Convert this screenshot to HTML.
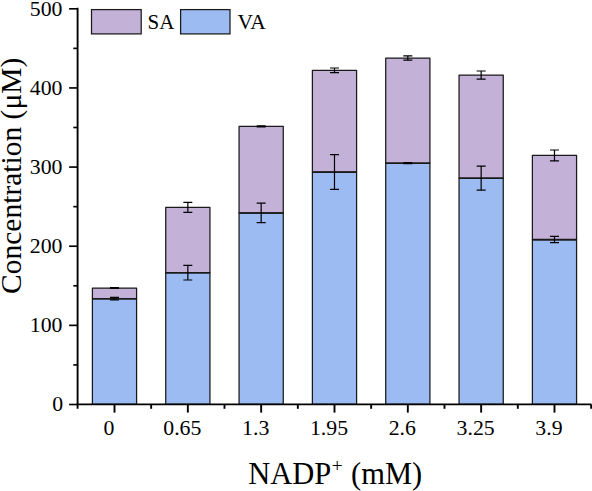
<!DOCTYPE html>
<html><head><meta charset="utf-8"><title>chart</title>
<style>
html,body{margin:0;padding:0;background:#fff;}
body{width:592px;height:491px;overflow:hidden;}
svg{display:block;}
</style></head><body>
<svg width="592" height="491" viewBox="0 0 592 491">
<rect width="592" height="491" fill="#fff"/>
<rect x="92.40" y="298.60" width="44.20" height="105.80" fill="#9CBBF3" stroke="#1a1a1a" stroke-width="1.25" stroke-linejoin="round"/>
<rect x="92.40" y="288.00" width="44.20" height="10.60" fill="#C3B1D8" stroke="#1a1a1a" stroke-width="1.25" stroke-linejoin="round"/>
<path d="M92.40 298.70H136.60" stroke="#1a1a1a" stroke-width="1.6" fill="none"/>
<path d="M114.50 297.30V299.90M110.00 297.30h9M110.00 299.90h9" stroke="#000" stroke-width="1.2" fill="none"/>
<path d="M114.50 287.65V288.35M110.00 287.65h9M110.00 288.35h9" stroke="#000" stroke-width="1.2" fill="none"/>
<rect x="165.73" y="272.70" width="44.20" height="131.70" fill="#9CBBF3" stroke="#1a1a1a" stroke-width="1.25" stroke-linejoin="round"/>
<rect x="165.73" y="207.40" width="44.20" height="65.30" fill="#C3B1D8" stroke="#1a1a1a" stroke-width="1.25" stroke-linejoin="round"/>
<path d="M165.73 272.80H209.93" stroke="#1a1a1a" stroke-width="1.6" fill="none"/>
<path d="M187.83 265.40V280.00M183.33 265.40h9M183.33 280.00h9" stroke="#000" stroke-width="1.2" fill="none"/>
<path d="M187.83 202.40V212.40M183.33 202.40h9M183.33 212.40h9" stroke="#000" stroke-width="1.2" fill="none"/>
<rect x="239.06" y="212.90" width="44.20" height="191.50" fill="#9CBBF3" stroke="#1a1a1a" stroke-width="1.25" stroke-linejoin="round"/>
<rect x="239.06" y="126.30" width="44.20" height="86.60" fill="#C3B1D8" stroke="#1a1a1a" stroke-width="1.25" stroke-linejoin="round"/>
<path d="M239.06 213.00H283.26" stroke="#1a1a1a" stroke-width="1.6" fill="none"/>
<path d="M261.16 203.20V222.60M256.66 203.20h9M256.66 222.60h9" stroke="#000" stroke-width="1.2" fill="none"/>
<path d="M261.16 125.80V126.80M256.66 125.80h9M256.66 126.80h9" stroke="#000" stroke-width="1.2" fill="none"/>
<rect x="312.39" y="172.00" width="44.20" height="232.40" fill="#9CBBF3" stroke="#1a1a1a" stroke-width="1.25" stroke-linejoin="round"/>
<rect x="312.39" y="70.30" width="44.20" height="101.70" fill="#C3B1D8" stroke="#1a1a1a" stroke-width="1.25" stroke-linejoin="round"/>
<path d="M312.39 172.10H356.59" stroke="#1a1a1a" stroke-width="1.6" fill="none"/>
<path d="M334.49 154.70V189.30M329.99 154.70h9M329.99 189.30h9" stroke="#000" stroke-width="1.2" fill="none"/>
<path d="M334.49 68.00V72.60M329.99 68.00h9M329.99 72.60h9" stroke="#000" stroke-width="1.2" fill="none"/>
<rect x="385.72" y="163.10" width="44.20" height="241.30" fill="#9CBBF3" stroke="#1a1a1a" stroke-width="1.25" stroke-linejoin="round"/>
<rect x="385.72" y="58.00" width="44.20" height="105.10" fill="#C3B1D8" stroke="#1a1a1a" stroke-width="1.25" stroke-linejoin="round"/>
<path d="M385.72 163.20H429.92" stroke="#1a1a1a" stroke-width="1.6" fill="none"/>
<path d="M407.82 162.60V163.60M403.32 162.60h9M403.32 163.60h9" stroke="#000" stroke-width="1.2" fill="none"/>
<path d="M407.82 55.80V60.20M403.32 55.80h9M403.32 60.20h9" stroke="#000" stroke-width="1.2" fill="none"/>
<rect x="459.05" y="178.10" width="44.20" height="226.30" fill="#9CBBF3" stroke="#1a1a1a" stroke-width="1.25" stroke-linejoin="round"/>
<rect x="459.05" y="75.10" width="44.20" height="103.00" fill="#C3B1D8" stroke="#1a1a1a" stroke-width="1.25" stroke-linejoin="round"/>
<path d="M459.05 178.20H503.25" stroke="#1a1a1a" stroke-width="1.6" fill="none"/>
<path d="M481.15 166.10V190.10M476.65 166.10h9M476.65 190.10h9" stroke="#000" stroke-width="1.2" fill="none"/>
<path d="M481.15 71.00V79.20M476.65 71.00h9M476.65 79.20h9" stroke="#000" stroke-width="1.2" fill="none"/>
<rect x="532.38" y="239.50" width="44.20" height="164.90" fill="#9CBBF3" stroke="#1a1a1a" stroke-width="1.25" stroke-linejoin="round"/>
<rect x="532.38" y="155.40" width="44.20" height="84.10" fill="#C3B1D8" stroke="#1a1a1a" stroke-width="1.25" stroke-linejoin="round"/>
<path d="M532.38 239.60H576.58" stroke="#1a1a1a" stroke-width="1.6" fill="none"/>
<path d="M554.48 236.40V242.60M549.98 236.40h9M549.98 242.60h9" stroke="#000" stroke-width="1.2" fill="none"/>
<path d="M554.48 150.00V160.80M549.98 150.00h9M549.98 160.80h9" stroke="#000" stroke-width="1.2" fill="none"/>
<g stroke="#000" stroke-width="1.90" fill="none" stroke-linecap="butt">
<path d="M77.60 7.75V408.80"/>
<path d="M76.65 404.40H591.5"/>
<path stroke-width="1.65" d="M69.10 404.50H77.60"/>
<path stroke-width="1.65" d="M69.10 325.36H77.60"/>
<path stroke-width="1.65" d="M69.10 246.22H77.60"/>
<path stroke-width="1.65" d="M69.10 167.08H77.60"/>
<path stroke-width="1.65" d="M69.10 87.94H77.60"/>
<path stroke-width="1.65" d="M69.10 8.80H77.60"/>
<path stroke-width="1.65" d="M73.30 364.93H77.60"/>
<path stroke-width="1.65" d="M73.30 285.79H77.60"/>
<path stroke-width="1.65" d="M73.30 206.65H77.60"/>
<path stroke-width="1.65" d="M73.30 127.51H77.60"/>
<path stroke-width="1.65" d="M73.30 48.37H77.60"/>
<path d="M114.50 404.40V412.60"/>
<path d="M151.16 404.40V408.80"/>
<path d="M187.83 404.40V412.60"/>
<path d="M224.49 404.40V408.80"/>
<path d="M261.16 404.40V412.60"/>
<path d="M297.82 404.40V408.80"/>
<path d="M334.49 404.40V412.60"/>
<path d="M371.16 404.40V408.80"/>
<path d="M407.82 404.40V412.60"/>
<path d="M444.49 404.40V408.80"/>
<path d="M481.15 404.40V412.60"/>
<path d="M517.81 404.40V408.80"/>
<path d="M554.48 404.40V412.60"/>
<path d="M591.14 404.40V408.80"/>
</g>
<rect x="91.5" y="9.6" width="49.7" height="24.3" fill="#C3B1D8" stroke="#1a1a1a" stroke-width="1.25"/>
<rect x="180.6" y="9.6" width="49.4" height="24.3" fill="#9CBBF3" stroke="#1a1a1a" stroke-width="1.25"/>
<g fill="#000" font-family="'Liberation Serif', serif">
<g font-size="21.8" text-anchor="end">
<text x="63.20" y="411.00">0</text>
<text x="62.50" y="332.16">100</text>
<text x="62.50" y="253.02">200</text>
<text x="62.50" y="173.88">300</text>
<text x="62.50" y="94.74">400</text>
<text x="62.50" y="15.60">500</text>
</g>
<g font-size="21.8" text-anchor="middle">
<text x="109.00" y="434.60">0</text>
<text x="182.33" y="434.60">0.65</text>
<text x="255.66" y="434.60">1.3</text>
<text x="328.99" y="434.60">1.95</text>
<text x="402.32" y="434.60">2.6</text>
<text x="475.65" y="434.60">3.25</text>
<text x="548.98" y="434.60">3.9</text>
</g>
<text x="147.60" y="29.40" font-size="21">SA</text>
<text x="237.60" y="29.40" font-size="21.5">VA</text>
<text x="248.15" y="483.50" font-size="30.5">NADP</text>
<text x="331.74" y="471.90" font-size="19.3">+</text>
<text x="351.05" y="483.50" font-size="30.5">(mM)</text>
<text transform="translate(20.50 293.90) rotate(-90)" x="0" y="0" font-size="29.5">Concentration (μM)</text>
</g>
</svg>
</body></html>
